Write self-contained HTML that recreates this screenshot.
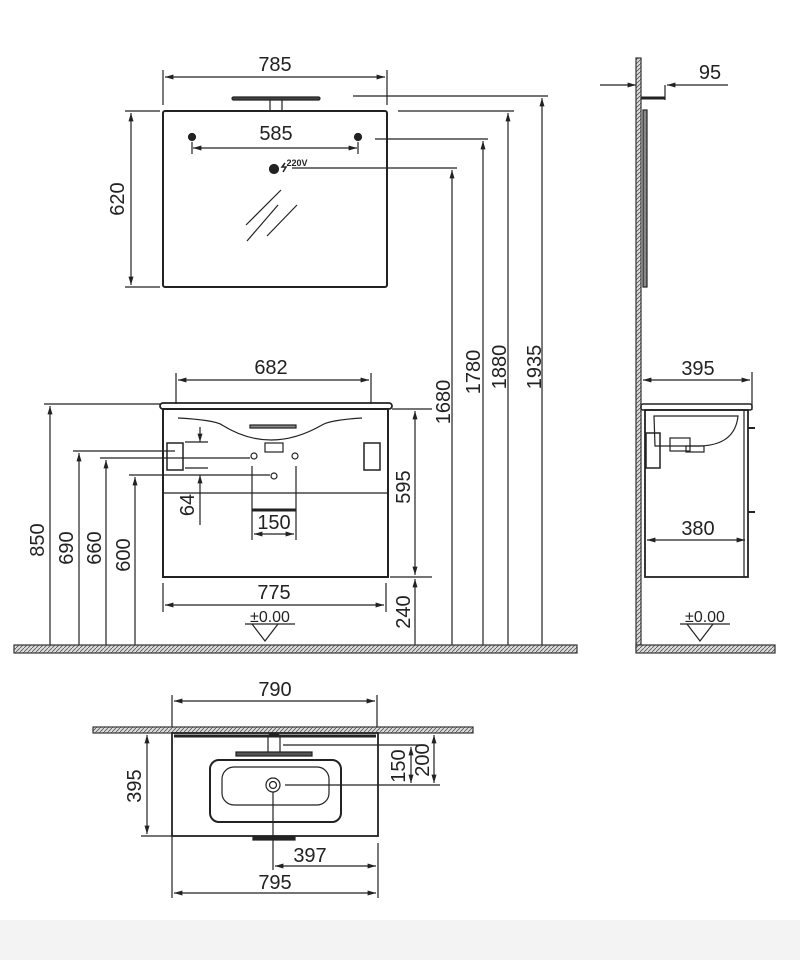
<!DOCTYPE html>
<html><head><style>html,body{margin:0;padding:0;background:#fff}svg{display:block}</style></head><body>
<svg width="800" height="960" viewBox="0 0 800 960" xmlns="http://www.w3.org/2000/svg" font-family="Liberation Sans, sans-serif" fill="none" stroke="#222" stroke-width="1.2">
<defs>
<marker id="a" viewBox="0 0 10 10" refX="10" refY="5" markerWidth="7" markerHeight="7" orient="auto-start-reverse"><path d="M0,2 L10,5 L0,8 z" fill="#222" stroke="none"/></marker>
<pattern id="h" width="4" height="4" patternUnits="userSpaceOnUse"><rect width="4" height="4" fill="#ddd" stroke="none"/><path d="M0,4 L4,0" stroke="#555" stroke-width="0.8"/></pattern>
</defs>
<rect x="0" y="920" width="800" height="40" fill="#f3f3f3" stroke="none"/>
<!-- Mirror -->
<line x1="163" y1="70" x2="163" y2="105"/><line x1="387" y1="70" x2="387" y2="105"/>
<line x1="165" y1="77" x2="385" y2="77" marker-start="url(#a)" marker-end="url(#a)"/>
<rect x="163" y="111" width="224" height="176" rx="2" stroke-width="2"/>
<rect x="232" y="97" width="88" height="3" rx="1.5" fill="#444"/>
<line x1="270" y1="100" x2="270" y2="111"/><line x1="282" y1="100" x2="282" y2="111"/>
<circle cx="192" cy="137" r="3.5" fill="#222"/><circle cx="358" cy="137" r="3.5" fill="#222"/>
<line x1="192" y1="142" x2="192" y2="154"/><line x1="358" y1="142" x2="358" y2="154"/>
<line x1="193" y1="148" x2="357" y2="148" marker-start="url(#a)" marker-end="url(#a)"/>
<circle cx="274" cy="169" r="4.5" fill="#222"/>
<path d="M285 163 l-3 4 h4 l-3 5" stroke-width="1.5"/>
<line x1="246" y1="225" x2="281" y2="190"/><line x1="247" y1="241" x2="278" y2="205"/><line x1="267" y1="236" x2="297" y2="205"/>
<line x1="125" y1="111" x2="160" y2="111"/><line x1="125" y1="287" x2="160" y2="287"/>
<line x1="131" y1="113" x2="131" y2="285" marker-start="url(#a)" marker-end="url(#a)"/>
<!-- height dims -->
<line x1="353" y1="96" x2="548" y2="96"/><line x1="542" y1="98" x2="542" y2="648" marker-start="url(#a)"/>
<line x1="398" y1="111" x2="514" y2="111"/><line x1="508" y1="113" x2="508" y2="648" marker-start="url(#a)"/>
<line x1="375" y1="139" x2="488" y2="139"/><line x1="483" y1="141" x2="483" y2="648" marker-start="url(#a)"/>
<line x1="292" y1="168" x2="457" y2="168"/><line x1="452" y1="170" x2="452" y2="648" marker-start="url(#a)"/>
<!-- Cabinet -->
<line x1="176" y1="373" x2="176" y2="404"/><line x1="371" y1="373" x2="371" y2="404"/>
<line x1="178" y1="380" x2="369" y2="380" marker-start="url(#a)" marker-end="url(#a)"/>
<rect x="160" y="403" width="232" height="6" rx="3" stroke-width="1.8"/>
<rect x="163" y="409" width="225" height="168" stroke-width="2"/>
<line x1="163" y1="493" x2="388" y2="493"/>
<path d="M178 418 Q215 420 222 425 Q270 455 322 425 Q330 420 362 418"/>
<rect x="250" y="425" width="46" height="3" fill="#888"/>
<rect x="265" y="443" width="18" height="9"/>
<rect x="167" y="443" width="16" height="27" stroke-width="1.5"/><rect x="364" y="443" width="16" height="27" stroke-width="1.5"/>
<circle cx="254" cy="456" r="3"/><circle cx="295" cy="456" r="3"/><circle cx="274" cy="476" r="3"/>
<line x1="252" y1="466" x2="252" y2="540"/><line x1="296" y1="466" x2="296" y2="540"/>
<line x1="252" y1="510" x2="296" y2="510" stroke-width="3"/>
<line x1="254" y1="534" x2="294" y2="534" marker-start="url(#a)" marker-end="url(#a)"/>
<line x1="200" y1="427" x2="200" y2="442" marker-end="url(#a)"/><line x1="200" y1="475" x2="200" y2="525" marker-start="url(#a)"/>
<line x1="185" y1="442" x2="208" y2="442"/><line x1="185" y1="468" x2="208" y2="468"/>
<line x1="44" y1="404" x2="160" y2="404"/><line x1="50" y1="406" x2="50" y2="648" marker-start="url(#a)"/>
<line x1="73" y1="451" x2="175" y2="451"/><line x1="79" y1="453" x2="79" y2="648" marker-start="url(#a)"/>
<line x1="100" y1="458" x2="250" y2="458"/><line x1="106" y1="460" x2="106" y2="648" marker-start="url(#a)"/>
<line x1="129" y1="475" x2="270" y2="475"/><line x1="135" y1="477" x2="135" y2="648" marker-start="url(#a)"/>
<line x1="392" y1="409" x2="432" y2="409"/><line x1="390" y1="577" x2="432" y2="577"/>
<line x1="415" y1="411" x2="415" y2="575" marker-start="url(#a)" marker-end="url(#a)"/>
<line x1="415" y1="579" x2="415" y2="646" marker-start="url(#a)"/>
<line x1="163" y1="583" x2="163" y2="612"/><line x1="386" y1="583" x2="386" y2="612"/>
<line x1="165" y1="605" x2="384" y2="605" marker-start="url(#a)" marker-end="url(#a)"/>
<line x1="245" y1="624" x2="295" y2="624"/><path d="M252 624 L265 641 L278 624"/>
<rect x="14" y="645" width="563" height="8" fill="url(#h)" stroke="#333"/>
<!-- side view -->
<rect x="636" y="58" width="5" height="592" fill="url(#h)" stroke="#333"/>
<rect x="636" y="645" width="139" height="8" fill="url(#h)" stroke="#333"/>
<rect x="643" y="110" width="4" height="177" fill="#888"/>
<line x1="641" y1="98" x2="665" y2="98" stroke-width="3"/><line x1="665" y1="85" x2="665" y2="100"/>
<line x1="600" y1="85" x2="636" y2="85" marker-end="url(#a)"/><line x1="728" y1="85" x2="667" y2="85" marker-end="url(#a)"/>
<line x1="752" y1="372" x2="752" y2="410"/>
<line x1="643" y1="380" x2="750" y2="380" marker-start="url(#a)" marker-end="url(#a)"/>
<rect x="641" y="404" width="111" height="6" rx="2" stroke-width="1.5"/>
<rect x="645" y="410" width="103" height="167" stroke-width="1.8"/>
<line x1="744" y1="410" x2="744" y2="577"/>
<path d="M654 416 H738 Q735 445 700 446 H655 Z"/><rect x="670" y="438" width="20" height="13"/><rect x="686" y="446" width="18" height="6"/>
<rect x="646" y="433" width="14" height="35" stroke-width="1.5"/>
<line x1="748" y1="428" x2="755" y2="428" stroke-width="2"/><line x1="748" y1="512" x2="755" y2="512" stroke-width="2"/>
<line x1="647" y1="540" x2="745" y2="540" marker-start="url(#a)" marker-end="url(#a)"/>
<line x1="680" y1="624" x2="730" y2="624"/><path d="M687 624 L700 641 L713 624"/>
<!-- top view -->
<line x1="172" y1="695" x2="172" y2="733"/><line x1="377" y1="695" x2="377" y2="733"/>
<line x1="174" y1="701" x2="375" y2="701" marker-start="url(#a)" marker-end="url(#a)"/>
<rect x="93" y="727" width="380" height="6" fill="url(#h)" stroke="#333"/>
<rect x="172" y="733" width="206" height="103" stroke-width="1.8"/>
<line x1="174" y1="736" x2="376" y2="736" stroke-width="3"/>
<rect x="268" y="734" width="12" height="20" rx="3"/><rect x="236" y="752" width="76" height="4" fill="#555"/>
<rect x="210" y="760" width="131" height="62" rx="9" stroke-width="2"/>
<rect x="222" y="767" width="107" height="38" rx="12"/>
<circle cx="273" cy="785" r="7"/><circle cx="273" cy="785" r="3.5"/>
<rect x="253" y="836" width="42" height="4" fill="#222"/>
<line x1="141" y1="836" x2="172" y2="836"/>
<line x1="147" y1="735" x2="147" y2="834" marker-start="url(#a)" marker-end="url(#a)"/>
<line x1="283" y1="745" x2="420" y2="745"/><line x1="285" y1="785" x2="440" y2="785"/>
<line x1="411" y1="747" x2="411" y2="783" marker-start="url(#a)" marker-end="url(#a)"/>
<line x1="434" y1="735" x2="434" y2="783" marker-start="url(#a)" marker-end="url(#a)"/>
<line x1="273" y1="792" x2="273" y2="870"/><line x1="378" y1="843" x2="378" y2="898"/>
<line x1="275" y1="866" x2="376" y2="866" marker-start="url(#a)" marker-end="url(#a)"/>
<line x1="172" y1="836" x2="172" y2="898"/>
<line x1="174" y1="893" x2="376" y2="893" marker-start="url(#a)" marker-end="url(#a)"/>
<!-- text -->
<g fill="#222" stroke="none" font-size="20" text-anchor="middle">
<text x="275" y="71">785</text>
<text x="276" y="140">585</text>
<text x="297" y="166" font-size="9" font-weight="bold">220V</text>
<text transform="translate(124,199) rotate(-90)">620</text>
<text transform="translate(450,402) rotate(-90)">1680</text>
<text transform="translate(480,372) rotate(-90)">1780</text>
<text transform="translate(506,367) rotate(-90)">1880</text>
<text transform="translate(541,367) rotate(-90)">1935</text>
<text x="271" y="374">682</text>
<text x="274" y="529">150</text>
<text transform="translate(194,505) rotate(-90)">64</text>
<text transform="translate(44,540) rotate(-90)">850</text>
<text transform="translate(73,548) rotate(-90)">690</text>
<text transform="translate(101,548) rotate(-90)">660</text>
<text transform="translate(130,555) rotate(-90)">600</text>
<text transform="translate(410,487) rotate(-90)">595</text>
<text transform="translate(410,612) rotate(-90)">240</text>
<text x="274" y="599">775</text>
<text x="270" y="622" font-size="16">±0.00</text>
<text x="710" y="79">95</text>
<text x="698" y="375">395</text>
<text x="698" y="535">380</text>
<text x="705" y="622" font-size="16">±0.00</text>
<text x="275" y="696">790</text>
<text transform="translate(141,786) rotate(-90)">395</text>
<text transform="translate(405,766) rotate(-90)">150</text>
<text transform="translate(429,760) rotate(-90)">200</text>
<text x="310" y="862">397</text>
<text x="275" y="889">795</text>
</g>
</svg>
</body></html>
